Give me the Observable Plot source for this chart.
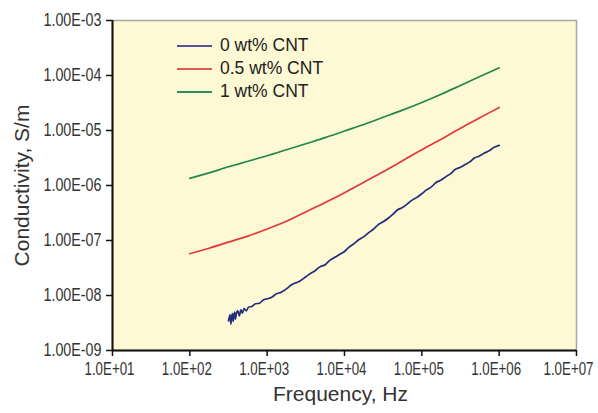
<!DOCTYPE html>
<html>
<head>
<meta charset="utf-8">
<script src="https://cdn.jsdelivr.net/npm/d3@7"></script>
<script src="https://cdn.jsdelivr.net/npm/@observablehq/plot@0.6"></script>
<style>
  body { margin: 0; background: #fff; }
  #wrap { position: relative; width: 598px; height: 413px; }
  #legend { position: absolute; left: 177px; top: 34px; font-family: "Liberation Sans", Arial, sans-serif; font-size: 17.5px; color: #222; }
  #legend .row { display: flex; align-items: center; height: 23px; }
  #legend svg { margin-right: 8px; }
</style>
</head>
<body>
<div id="wrap"><div id="legend"></div></div>
<script>
// Data (log10 frequency in Hz, log10 conductivity in S/m)
const series = ["0 wt% CNT", "0.5 wt% CNT", "1 wt% CNT"];
const colors = ["#242c7c", "#e2383c", "#23874c"];
const legendColors = ["#5a4f9c", "#e05a55", "#2e8c5c"];

const logF0 = [2.50, 2.51, 2.52, 2.53, 2.54, 2.55, 2.56, 2.57, 2.58, 2.59, 2.60, 2.62, 2.64, 2.66, 2.68, 2.70, 2.73, 2.76, 2.80, 2.85, 2.90, 2.95, 3.00, 3.06, 3.12, 3.18, 3.25, 3.31, 3.37, 3.43, 3.50, 3.56, 3.62, 3.68, 3.75, 3.81, 3.87, 3.93, 4.00, 4.06, 4.12, 4.18, 4.25, 4.31, 4.37, 4.43, 4.50, 4.56, 4.62, 4.68, 4.75, 4.81, 4.87, 4.93, 5.00, 5.06, 5.12, 5.18, 5.25, 5.31, 5.37, 5.43, 5.50, 5.56, 5.62, 5.68, 5.75, 5.81, 5.87, 5.93, 6.00];
const logS0 = [-8.46, -8.40, -8.35, -8.52, -8.40, -8.33, -8.47, -8.36, -8.30, -8.43, -8.34, -8.28, -8.37, -8.26, -8.32, -8.24, -8.28, -8.21, -8.20, -8.15, -8.14, -8.08, -8.06, -8.03, -7.97, -7.94, -7.88, -7.81, -7.77, -7.73, -7.66, -7.60, -7.55, -7.48, -7.44, -7.36, -7.31, -7.26, -7.20, -7.12, -7.06, -6.99, -6.93, -6.86, -6.80, -6.72, -6.66, -6.60, -6.53, -6.45, -6.40, -6.34, -6.27, -6.22, -6.15, -6.08, -6.03, -5.95, -5.90, -5.84, -5.79, -5.71, -5.67, -5.62, -5.57, -5.50, -5.46, -5.41, -5.37, -5.31, -5.27];

const logF05 = [2.00, 2.25, 2.50, 2.75, 3.00, 3.25, 3.50, 3.75, 4.00, 4.25, 4.50, 4.75, 5.00, 5.25, 5.50, 5.75, 6.00];
const logS05 = [-7.24, -7.14, -7.03, -6.92, -6.79, -6.65, -6.48, -6.31, -6.13, -5.94, -5.75, -5.55, -5.35, -5.16, -4.96, -4.77, -4.58];

const logF1 = [2.00, 2.25, 2.50, 2.75, 3.00, 3.25, 3.50, 3.75, 4.00, 4.25, 4.50, 4.75, 5.00, 5.25, 5.50, 5.75, 6.00];
const logS1 = [-5.87, -5.77, -5.66, -5.56, -5.46, -5.35, -5.24, -5.13, -5.01, -4.89, -4.76, -4.63, -4.49, -4.34, -4.18, -4.02, -3.86];

const xTicks = [1e1, 1e2, 1e3, 1e4, 1e5, 1e6, 1e7];
const yTicks = [1e-9, 1e-8, 1e-7, 1e-6, 1e-5, 1e-4, 1e-3];
const xTickLabels = ["1.0E+01", "1.0E+02", "1.0E+03", "1.0E+04", "1.0E+05", "1.0E+06", "1.0E+07"];
const yTickLabels = ["1.00E-09", "1.00E-08", "1.00E-07", "1.00E-06", "1.00E-05", "1.00E-04", "1.00E-03"];

const toRows = (lf, ls, s) => lf.map((f, i) => ({f: 10 ** f, s: 10 ** ls[i], series: s}));
const data = [
  ...toRows(logF0, logS0, series[0]),
  ...toRows(logF05, logS05, series[1]),
  ...toRows(logF1, logS1, series[2])
];

const xLabel = d => xTickLabels[Math.round(Math.log10(d)) - 1];
const yLabel = d => yTickLabels[Math.round(Math.log10(d)) + 9];

const chart = Plot.plot({
  width: 598,
  height: 413,
  marginLeft: 112,
  marginRight: 22,
  marginTop: 20,
  marginBottom: 63,
  style: {fontFamily: "'Liberation Sans', Arial, sans-serif", background: "#fff", color: "#222"},
  x: {type: "log", domain: [1e1, 1e7]},
  y: {type: "log", domain: [1e-9, 1e-3]},
  color: {domain: series, range: colors},
  marks: [
    Plot.frame({fill: "#fdf9d4", stroke: "#a8a8a0", strokeWidth: 1.5}),
    Plot.axisX({ticks: xTicks, tickFormat: xLabel, tickSize: 6, tickPadding: 6, stroke: "#111", strokeWidth: 1.5, fontSize: 17.5, fill: "#333", label: null}),
    Plot.axisY({ticks: yTicks, tickFormat: yLabel, tickSize: 6, tickPadding: 5, stroke: "#111", strokeWidth: 1.5, fontSize: 17.5, fill: "#333", label: null}),
    Plot.ruleX([1e1], {stroke: "#111", strokeWidth: 2}),
    Plot.ruleY([1e-9], {stroke: "#111", strokeWidth: 2}),
    Plot.line(data, {x: "f", y: "s", z: "series", stroke: "series", strokeWidth: 1.7, curve: "monotone-x"}),
    Plot.text(["Frequency, Hz"], {frameAnchor: "bottom", dy: 50, dx: -4, fontSize: 21, fill: "#333"}),
    Plot.text(["Conductivity, S/m"], {frameAnchor: "left", dx: -90, rotate: -90, textAnchor: "middle", fontSize: 21, fill: "#333"})
  ]
});
document.getElementById("wrap").prepend(chart);

// condense tick labels like the narrow face of the original
const svg = d3.select(chart);
const xt = svg.selectAll('g[aria-label="x-axis tick label"] text');
const nx = xt.size();
xt.each(function(d, i) {
  const t = d3.select(this);
  t.attr("textLength", 50).attr("lengthAdjust", "spacingAndGlyphs");
  if (i === nx - 1) {
    t.attr("text-anchor", "end").attr("dx", 17);
  } else {
    t.attr("dx", -3);
  }
});
svg.selectAll('g[aria-label="y-axis tick label"] text').each(function() {
  d3.select(this).attr("textLength", 58).attr("lengthAdjust", "spacingAndGlyphs");
});

const legend = document.getElementById("legend");
series.forEach((s, i) => {
  const row = document.createElement("div");
  row.className = "row";
  row.innerHTML = `<svg width="35" height="4"><line x1="0" x2="35" y1="2" y2="2" stroke="${legendColors[i]}" stroke-width="2"/></svg><span>${s}</span>`;
  legend.appendChild(row);
});
</script>
</body>
</html>
